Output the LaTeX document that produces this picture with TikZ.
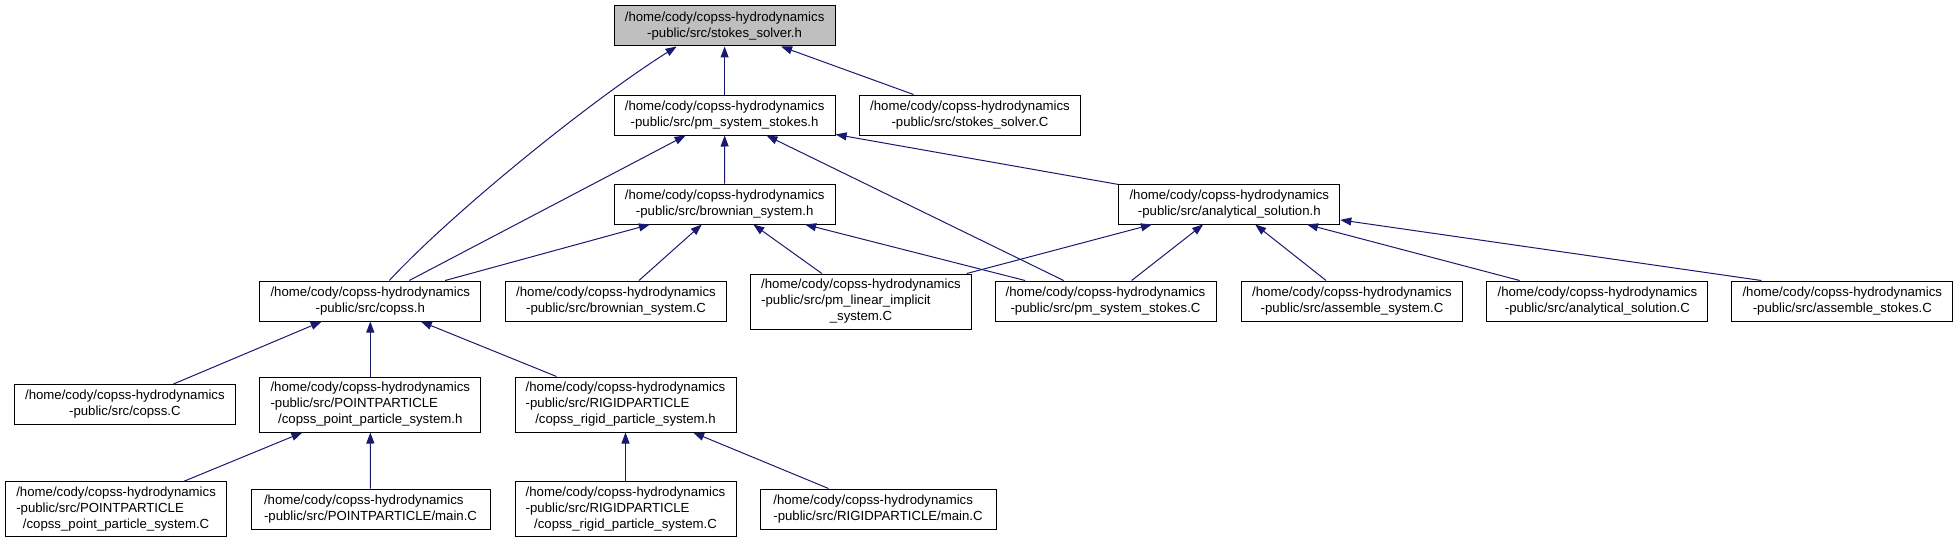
\documentclass[tikz,border=0pt]{standalone}
\usepackage{fontspec}
\setmainfont{Liberation Sans}
\usepackage{tikz}
\usetikzlibrary{arrows.meta}

\definecolor{edgeblue}{HTML}{191970}
\definecolor{rootgray}{HTML}{BFBFBF}
\newcommand{\pathhead}{/home/cody/copss-hydrodynamics}
\newcommand{\flushpart}[1]{\rlap{#1}\phantom{\pathhead}}

\begin{document}
\begin{tikzpicture}[x=1pt, y=-1pt,
    file/.style={draw=black, line width=1pt, fill=white, align=center, inner sep=2pt,
        minimum width=221pt, minimum height=40pt, font=\fontsize{13.2}{16}\selectfont},
    tall/.style={minimum height=55pt},
    dep/.style={draw=edgeblue, line width=1pt, -{Triangle[length=11pt,width=8pt]}}]
    \useasboundingbox (0,0) rectangle (1959,543);

    \node[file, fill=rootgray] (ssh) at (724.6,26) {\pathhead\\-public/src/stokes\_solver.h};
    \node[file] (pmh) at (724.6,115) {\pathhead\\-public/src/pm\_system\_stokes.h};
    \node[file] (ssC) at (970,115) {\pathhead\\-public/src/stokes\_solver.C};
    \node[file] (bsh) at (724.7,204) {\pathhead\\-public/src/brownian\_system.h};
    \node[file] (ash) at (1229.3,204) {\pathhead\\-public/src/analytical\_solution.h};

    \node[file] (copssh) at (370.3,301) {\pathhead\\-public/src/copss.h};
    \node[file] (bsC) at (616,301) {\pathhead\\-public/src/brownian\_system.C};
    \node[file, tall] (pliC) at (861,301.5) {\pathhead\\\flushpart{-public/src/pm\_linear\_implicit}\\\_system.C};
    \node[file] (pmC) at (1105.5,301) {\pathhead\\-public/src/pm\_system\_stokes.C};
    \node[file] (asysC) at (1352,301) {\pathhead\\-public/src/assemble\_system.C};
    \node[file] (ascC) at (1597.4,301) {\pathhead\\-public/src/analytical\_solution.C};
    \node[file] (astC) at (1842.3,301) {\pathhead\\-public/src/assemble\_stokes.C};

    \node[file] (copssC) at (124.9,404.5) {\pathhead\\-public/src/copss.C};
    \node[file, tall] (pph) at (370.3,404.5) {\pathhead\\\flushpart{-public/src/POINTPARTICLE}\\ /copss\_point\_particle\_system.h};
    \node[file, tall] (rph) at (625.5,404.5) {\pathhead\\\flushpart{-public/src/RIGIDPARTICLE}\\ /copss\_rigid\_particle\_system.h};

    \node[file, tall] (ppC) at (116.1,509.2) {\pathhead\\\flushpart{-public/src/POINTPARTICLE}\\ /copss\_point\_particle\_system.C};
    \node[file, align=left, minimum width=239pt] (pmain) at (370.5,509) {\pathhead\\-public/src/POINTPARTICLE/main.C};
    \node[file, tall] (rpC) at (625.5,509.2) {\pathhead\\\flushpart{-public/src/RIGIDPARTICLE}\\ /copss\_rigid\_particle\_system.C};
    \node[file, align=left, minimum width=236pt] (rmain) at (878,509) {\pathhead\\-public/src/RIGIDPARTICLE/main.C};

    \draw[dep] (pmh) -- (ssh);
    \draw[dep] (ssC) -- (ssh);
    \draw[dep] ([xshift=19pt]copssh.north) .. controls (450,215) and (587,103) .. ([xshift=-48pt]ssh.south);
    \draw[dep] (bsh) -- (pmh);
    \draw[dep] (copssh) -- (pmh);
    \draw[dep] (pmC) -- (pmh);
    \draw[dep] (ash) -- (pmh);
    \draw[dep] (copssh) -- (bsh);
    \draw[dep] (bsC) -- (bsh);
    \draw[dep] (pliC) -- (bsh);
    \draw[dep] (pmC) -- (bsh);
    \draw[dep] (pliC) -- (ash);
    \draw[dep] (pmC) -- (ash);
    \draw[dep] (asysC) -- (ash);
    \draw[dep] (ascC) -- (ash);
    \draw[dep] ([xshift=-81pt]astC.north) -- (ash);
    \draw[dep] (copssC) -- (copssh);
    \draw[dep] (pph) -- (copssh);
    \draw[dep] (rph) -- (copssh);
    \draw[dep] (ppC) -- (pph);
    \draw[dep] (pmain) -- (pph);
    \draw[dep] (rpC) -- (rph);
    \draw[dep] (rmain) -- (rph);
\end{tikzpicture}
\end{document}
